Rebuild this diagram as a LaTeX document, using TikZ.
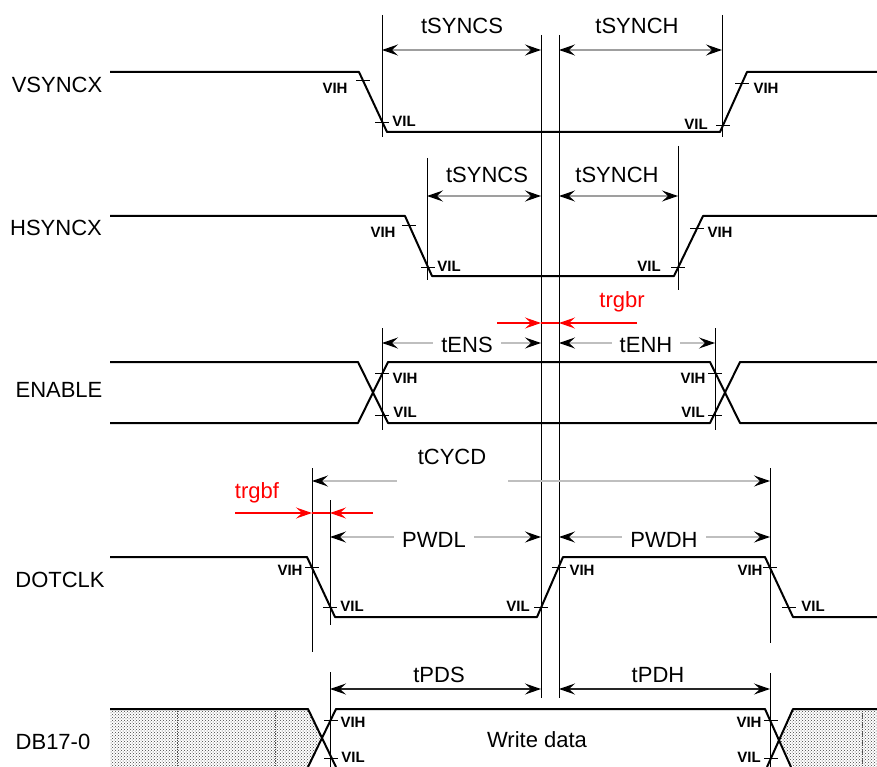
\documentclass[tikz,border=0pt]{standalone}
\usepackage{fontspec}
\setmainfont{Liberation Sans}
\usetikzlibrary{arrows.meta, patterns}

\begin{document}
\begin{tikzpicture}[x=1pt, y=-1pt,
    signal/.style={line width=2pt, black, line join=round},
    marker/.style={line width=0.9pt, black},
    tickline/.style={line width=0.9pt, black},
    dimsync/.style={line width=1.4pt, gray!75,
        {Stealth[black, length=16pt, width=11pt, inset=6pt]}-{Stealth[black, length=16pt, width=11pt, inset=6pt]}},
    dimsoft/.style={dimsync, gray!50},
    dimdata/.style={dimsync, black!85},
    dimleft/.style={line width=1.4pt, gray!50, {Stealth[black, length=16pt, width=11pt, inset=6pt]}-},
    dimright/.style={line width=1.4pt, gray!50, -{Stealth[black, length=16pt, width=11pt, inset=6pt]}},
    redarrow/.style={line width=1.4pt, red, -{Stealth[red, length=16pt, width=11pt, inset=6pt]}},
    biglabel/.style={font=\fontsize{22}{26}\selectfont, inner sep=1pt},
    gaplabel/.style={biglabel, fill=white, inner xsep=8pt},
    lvl/.style={font=\fontsize{15}{16}\selectfont\bfseries, inner sep=0pt},
    redlabel/.style={biglabel, text=red}]
    \useasboundingbox (0,0) rectangle (877,767);

    % Tên các tín hiệu
    \node[biglabel] (vsyncx) at (57,85)  {VSYNCX};
    \node[biglabel] (hsyncx) at (56,228) {HSYNCX};
    \node[biglabel] (enable) at (59,390) {ENABLE};
    \node[biglabel] (dotclk) at (60,580) {DOTCLK};
    \node[biglabel] (db)     at (53,742) {DB17-0};

    % Các đường gióng thẳng đứng
    \coordinate (c1t) at (541,35);  \coordinate (c1b) at (541,698);
    \coordinate (c2t) at (559,35);  \coordinate (c2b) at (559,698);
    \coordinate (v1t) at (382,15);  \coordinate (v1b) at (382,137);
    \coordinate (v2t) at (722,15);  \coordinate (v2b) at (722,137);
    \coordinate (h1t) at (427,158); \coordinate (h1b) at (427,280);
    \coordinate (h2t) at (678,146); \coordinate (h2b) at (678,290);
    \coordinate (e1t) at (382,328); \coordinate (e1b) at (382,430);
    \coordinate (e2t) at (715,328); \coordinate (e2b) at (715,430);
    \coordinate (d1t) at (312,468); \coordinate (d1b) at (312,652);
    \coordinate (d2t) at (330,500); \coordinate (d2b) at (330,625);
    \coordinate (d3t) at (770,468); \coordinate (d3b) at (770,643);
    \coordinate (b1t) at (330,672); \coordinate (b1b) at (330,767);
    \coordinate (b2t) at (770,673); \coordinate (b2b) at (770,767);
    \foreach \m in {c1,c2,v1,v2,h1,h2,e1,e2,d1,d2,d3,b1,b2}
        \draw[marker] (\m t) -- (\m b);

    % Vùng dữ liệu không xác định (chấm)
    \fill[pattern=crosshatch dots, pattern color=black!75]
        (110,709) -- (308,709) -- (322,738) -- (308,767) -- (110,767) -- cycle;
    \fill[pattern=crosshatch dots, pattern color=black!75]
        (877,709) -- (793,709) -- (779,738) -- (793,767) -- (877,767) -- cycle;
    \foreach \x in {177,275,862}
        \draw[densely dotted, black!70, line width=0.8pt] (\x,711) -- (\x,767);

    % Dạng sóng
    \draw[signal] (110,72) -- (359,72) -- (387,132) -- (720,132) -- (747,72) -- (877,72);
    \draw[signal] (110,216) -- (405,216) -- (432,276) -- (674,276) -- (703,216) -- (877,216);
    \draw[signal] (110,362) -- (358,362) -- (388,423) -- (710,423) -- (740,362) -- (877,362);
    \draw[signal] (110,423) -- (358,423) -- (388,362) -- (710,362) -- (740,423) -- (877,423);
    \draw[signal] (110,557) -- (307,557) -- (335,617) -- (537,617) -- (563,557)
        -- (765,557) -- (793,617) -- (877,617);
    \draw[signal] (110,709) -- (308,709) -- (336,767);
    \draw[signal] (308,767) -- (336,709) -- (765,709) -- (791,767);
    \draw[signal] (767,767) -- (793,709) -- (877,709);

    % Vạch ngưỡng VIH / VIL
    \foreach \x/\y in {363/80, 382/122, 723/125, 742/83,
                       409/225, 428/267, 678/267, 697/228,
                       382/373, 382/415, 715/373, 715/415,
                       312/567, 330/607, 541/607, 559/567, 770/567, 789/607,
                       331/720, 331/758, 771/720, 771/758}
        \draw[tickline] ({\x-7},\y) -- ({\x+7},\y);

    \foreach \x/\y/\t [count=\i] in {335/88/VIH, 404/121/VIL, 696/124/VIL, 766/88/VIH,
                       383/232/VIH, 449/266/VIL, 649/266/VIL, 720/232/VIH,
                       405/378/VIH, 405/412/VIL, 693/378/VIH, 693/412/VIL,
                       290/570/VIH, 352/606/VIL, 518/606/VIL, 582/570/VIH,
                       750/570/VIH, 813/606/VIL,
                       353/722/VIH, 353/757/VIL, 749/722/VIH, 749/757/VIL}
        \node[lvl] (lv\i) at (\x,\y) {\t};

    % Các khoảng thời gian
    \draw[dimsync] (v1t |- 0,50) -- (c1t |- 0,50);
    \node[biglabel] (tsyncsV) at (462,26) {tSYNCS};
    \draw[dimsync] (c2t |- 0,50) -- (v2t |- 0,50);
    \node[biglabel] (tsynchV) at (637,26) {tSYNCH};

    \draw[dimsync] (h1t |- 0,196) -- (c1t |- 0,196);
    \node[biglabel] (tsyncsH) at (487,175) {tSYNCS};
    \draw[dimsync] (c2t |- 0,196) -- (h2t |- 0,196);
    \node[biglabel] (tsynchH) at (617,175) {tSYNCH};

    \draw[redarrow] (497,323) -- (c1t |- 0,323);
    \draw[redarrow] (637,323) -- (c2t |- 0,323);
    \draw[red, line width=1.4pt] (c1t |- 0,323) -- (c2t |- 0,323);
    \node[redlabel] (trgbr) at (622,302) {trgbr};

    \draw[dimsoft] (e1t |- 0,343) -- (c1t |- 0,343);
    \node[gaplabel] (tens) at (467,345) {tENS};
    \draw[dimsoft] (c2t |- 0,343) -- (e2t |- 0,343);
    \node[gaplabel] (tenh) at (646,345) {tENH};

    \draw[dimleft] (d1t |- 0,481) -- (397,481);
    \draw[dimright] (508,481) -- (d3t |- 0,481);
    \node[biglabel] (tcycd) at (452,457) {tCYCD};

    \draw[redarrow] (235,513) -- (d1t |- 0,513);
    \draw[redarrow] (373,513) -- (d2t |- 0,513);
    \draw[red, line width=1.4pt] (d1t |- 0,513) -- (d2t |- 0,513);
    \node[redlabel] (trgbf) at (257,493) {trgbf};

    \draw[dimsoft] (d2t |- 0,537) -- (c1t |- 0,537);
    \node[gaplabel] (pwdl) at (434,540) {PWDL};
    \draw[dimsoft] (c2t |- 0,537) -- (d3t |- 0,537);
    \node[gaplabel] (pwdh) at (664,540) {PWDH};

    \draw[dimdata] (b1t |- 0,689) -- (c1t |- 0,689);
    \node[biglabel] (tpds) at (439,675) {tPDS};
    \draw[dimdata] (c2t |- 0,689) -- (b2t |- 0,689);
    \node[biglabel] (tpdh) at (658,675) {tPDH};

    \node[biglabel] (wdata) at (537,740) {Write data};
\end{tikzpicture}
\end{document}
